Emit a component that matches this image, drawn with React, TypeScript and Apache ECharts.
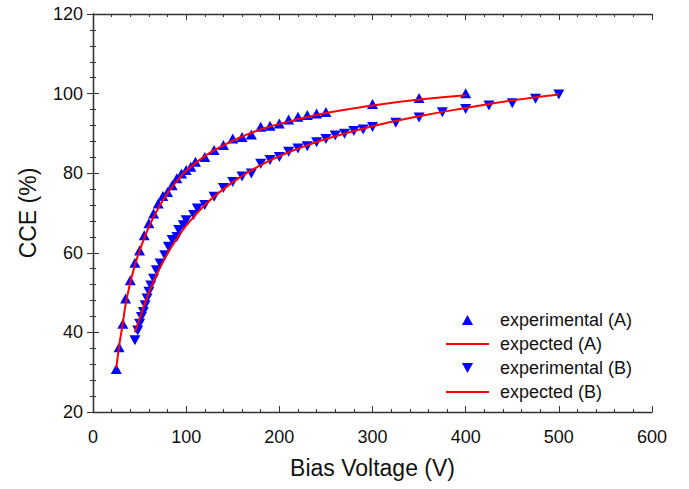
import React, { useEffect, useRef } from "react";
import * as echarts from "echarts";

const expAX = [25, 28, 32, 35, 40, 45, 50, 55, 60, 65, 70, 75, 80, 85, 90, 95, 100, 105, 110, 120, 130, 140, 150, 160, 170, 180, 190, 200, 210, 220, 230, 240, 250, 300, 350, 400];
const expAY = [30.8, 36.3, 42.2, 48.5, 53.1, 57.5, 60.6, 64.4, 67.4, 69.9, 72.4, 74.3, 75.3, 77.0, 78.7, 79.9, 80.8, 81.6, 82.9, 84.1, 85.8, 87.1, 88.7, 89.1, 89.7, 91.7, 91.9, 92.5, 93.5, 94.2, 94.6, 95.0, 95.4, 97.4, 98.9, 100.1];

const fitAX = [25, 28, 32, 35, 40, 45, 50, 60, 70, 80, 90, 100, 120, 140, 160, 180, 200, 250, 300, 350, 400];
const fitAY = [31.0, 36.5, 42.3, 47.0, 52.5, 56.8, 60.5, 66.5, 71.2, 75.0, 78.0, 80.6, 84.3, 87.0, 89.2, 91.0, 92.4, 95.1, 97.0, 98.5, 99.6];

const expBX = [45, 48, 50, 52, 54, 56, 58, 60, 62, 65, 68, 72, 77, 81, 85, 90, 92, 97, 100, 108, 112, 120, 130, 140, 150, 160, 170, 180, 190, 200, 210, 220, 230, 240, 250, 260, 270, 280, 290, 300, 325, 350, 375, 400, 425, 450, 475, 500];
const expBY = [38.0, 40.5, 42.2, 43.9, 45.1, 46.8, 48.5, 50.2, 51.8, 53.5, 55.6, 57.3, 59.4, 61.5, 63.2, 64.0, 65.7, 66.9, 68.2, 69.5, 71.1, 72.0, 74.1, 76.3, 77.8, 79.2, 79.9, 82.4, 83.3, 84.1, 85.4, 86.2, 86.8, 87.8, 88.6, 89.5, 89.9, 90.6, 91.0, 91.6, 92.7, 94.0, 95.3, 96.1, 97.0, 97.6, 98.7, 99.8];

const fitBX = [45, 50, 60, 70, 80, 90, 100, 120, 140, 160, 180, 200, 225, 250, 300, 350, 400, 450, 500];
const fitBY = [40.0, 43.5, 50.0, 55.3, 59.8, 63.5, 66.8, 72.0, 76.0, 79.3, 82.0, 84.3, 86.6, 88.6, 91.8, 94.3, 96.4, 98.3, 99.8];

const legendNames = ["experimental (A)", "expected (A)", "experimental (B)", "expected (B)"];
const xAxisName = "Bias Voltage (V)";
const yAxisName = "CCE (%)";

const zip = (xs: number[], ys: number[]) => xs.map((x, i) => [x, ys[i]]);

const FONT = "'Liberation Sans', Arial, Helvetica, sans-serif";
const AXIS_COLOR = "#333";
const UP_TRI = "path://M5,0 L10,9 L0,9 Z";
const DOWN_TRI = "path://M0,0 L10,0 L5,9 Z";
const LINE_ICON = "path://M0,0 L43,0 L43,2 L0,2 Z";

export default function App() {
  const ref = useRef<HTMLDivElement>(null);
  useEffect(() => {
    document.body.style.margin = "0";
    if (!ref.current) return;
    const chart = echarts.init(ref.current, undefined, { renderer: "svg" });
    const commonAxis = {
      axisLine: { show: true, lineStyle: { color: AXIS_COLOR, width: 1.3 } },
      axisTick: { show: true, inside: true, length: 6, lineStyle: { color: AXIS_COLOR } },
      minorTick: { show: true, splitNumber: 5, length: 3, lineStyle: { color: AXIS_COLOR } },
      splitLine: { show: false },
    };
    chart.setOption({
      animation: false,
      backgroundColor: "#fff",
      textStyle: { fontFamily: FONT },
      grid: { left: 93, right: 37, top: 14, bottom: 77 },
      legend: {
        orient: "vertical",
        left: 441,
        top: 303,
        itemWidth: 43,
        itemHeight: 10,
        itemGap: 0,
        symbolKeepAspect: true,
        textStyle: { fontSize: 18, color: "#111", fontFamily: FONT, lineHeight: 24, padding: [0, 0, 0, 6] },
        data: [
          { name: legendNames[0], icon: UP_TRI },
          { name: legendNames[1], icon: LINE_ICON },
          { name: legendNames[2], icon: DOWN_TRI },
          { name: legendNames[3], icon: LINE_ICON },
        ],
      },
      xAxis: [
        {
          type: "value",
          min: 0,
          max: 600,
          interval: 100,
          name: xAxisName,
          nameLocation: "middle",
          nameGap: 44,
          nameTextStyle: { fontSize: 23, color: "#111", fontFamily: FONT },
          axisLabel: { fontSize: 18, color: "#111", margin: 16, fontFamily: FONT },
          ...commonAxis,
        },
        {
          type: "value",
          position: "top",
          min: 0,
          max: 600,
          interval: 100,
          axisLabel: { show: false },
          ...commonAxis,
        },
      ],
      yAxis: [
        {
          type: "value",
          min: 20,
          max: 120,
          interval: 20,
          name: yAxisName,
          nameLocation: "middle",
          nameGap: 54,
          nameTextStyle: { fontSize: 23, color: "#111", fontFamily: FONT },
          axisLabel: { fontSize: 18, color: "#111", margin: 10, fontFamily: FONT },
          ...commonAxis,
        },
        {
          type: "value",
          position: "right",
          min: 20,
          max: 120,
          interval: 20,
          axisLabel: { show: false },
          ...commonAxis,
        },
      ],
      series: [
        {
          name: legendNames[0],
          type: "scatter",
          symbol: "triangle",
          symbolSize: [11, 10],
          itemStyle: { color: "#0000ff", opacity: 1 },
          data: zip(expAX, expAY),
          z: 2,
        },
        {
          name: legendNames[2],
          type: "scatter",
          symbol: "triangle",
          symbolRotate: 180,
          symbolSize: [11, 10],
          itemStyle: { color: "#0000ff", opacity: 1 },
          data: zip(expBX, expBY),
          z: 2,
        },
        {
          name: legendNames[1],
          type: "line",
          smooth: true,
          symbol: "none",
          lineStyle: { color: "#ff0000", width: 2 },
          itemStyle: { color: "#ff0000" },
          data: zip(fitAX, fitAY),
          z: 3,
        },
        {
          name: legendNames[3],
          type: "line",
          smooth: true,
          symbol: "none",
          lineStyle: { color: "#ff0000", width: 2 },
          itemStyle: { color: "#ff0000" },
          data: zip(fitBX, fitBY),
          z: 3,
        },
      ],
    });
    return () => chart.dispose();
  }, []);
  return <div ref={ref} style={{ width: 689, height: 489 }} />;
}
